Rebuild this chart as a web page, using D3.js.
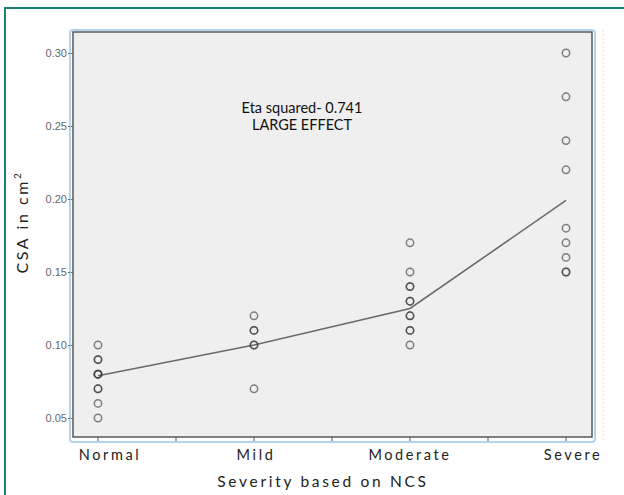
<!DOCTYPE html>
<html><head><meta charset="utf-8">
<script src="https://cdn.jsdelivr.net/npm/d3@7"></script>
<style>body{margin:0;background:#fff}svg{display:block}</style>
</head><body>
<svg id="c" width="624" height="495"></svg>
<script>
const categories = ["Normal", "Mild", "Moderate", "Severe"];
const normalVals = [0.10, 0.09, 0.09, 0.08, 0.08, 0.08, 0.07, 0.07, 0.06, 0.05];
const mildVals = [0.12, 0.11, 0.11, 0.10, 0.10, 0.07];
const moderateVals = [0.17, 0.15, 0.14, 0.14, 0.13, 0.13, 0.12, 0.12, 0.11, 0.11, 0.10];
const severeVals = [0.30, 0.27, 0.24, 0.22, 0.18, 0.17, 0.16, 0.15, 0.15];
const groupMeans = [0.079, 0.100, 0.125, 0.199];
const yTicks = [0.05, 0.10, 0.15, 0.20, 0.25, 0.30];
const annotation = ["Eta squared- 0.741", "LARGE EFFECT"];

const groups = [normalVals, mildVals, moderateVals, severeVals];
const labelNudge = [12, 2, 0, 7];
const svg = d3.select("#c");
const L = 73, R = 592, T = 32, B = 437;

// outer teal frame
svg.append("rect").attr("x", 5).attr("y", 8).attr("width", 700).attr("height", 600)
  .attr("fill", "none").attr("stroke", "#1d7f73").attr("stroke-width", 2);
// faint dashed line on right
svg.append("line").attr("x1", 603).attr("x2", 603).attr("y1", 30).attr("y2", 440)
  .attr("stroke", "#e4e4e4").attr("stroke-dasharray", "2,2");

// blue outline
svg.append("rect").attr("x", 70).attr("y", 30).attr("width", 525).attr("height", 412)
  .attr("rx", 3).attr("fill", "#fff").attr("stroke", "#b3d3ef").attr("stroke-width", 2);
// plot area
svg.append("rect").attr("x", L).attr("y", T).attr("width", R - L).attr("height", B - T)
  .attr("fill", "#efefef").attr("stroke", "#5a5a5a").attr("stroke-width", 1.5);

const x = d3.scalePoint().domain(categories).range([98, 566]);
const y = d3.scaleLinear().domain([0.05, 0.30]).range([418, 53]);

// y axis
const yAxis = svg.append("g").attr("transform", `translate(${L},0)`)
  .call(d3.axisLeft(y).tickValues(yTicks).tickFormat(d3.format(".2f")).tickSize(5).tickPadding(1));
yAxis.select(".domain").remove();
yAxis.selectAll("line").attr("stroke", "#666").attr("stroke-dasharray", "2,1");
yAxis.selectAll("text").attr("fill", "#666").style("font-family", "Liberation Sans, Arial, sans-serif")
  .style("font-size", "11px").attr("dy", "0.35em");

// x ticks (categories and midpoints)
const step = x.step();
const xTickPos = [];
categories.forEach((c, i) => {
  xTickPos.push(x(c));
  if (i < categories.length - 1) xTickPos.push(x(c) + step / 2);
});
svg.append("g").selectAll("line").data(xTickPos).join("line")
  .attr("x1", d => d).attr("x2", d => d).attr("y1", B).attr("y2", B + 4)
  .attr("stroke", "#555").attr("stroke-width", 1);

// category labels
svg.append("g").selectAll("text").data(categories).join("text")
  .attr("x", (d, i) => x(d) + labelNudge[i]).attr("y", 460).attr("text-anchor", "middle")
  .style("font-family", "Lato, sans-serif").style("font-size", "14.5px")
  .style("letter-spacing", "2.6px").attr("fill", "#222").text(d => d);

// axis titles
svg.append("text").attr("x", 323).attr("y", 487).attr("text-anchor", "middle")
  .style("font-family", "Lato, sans-serif").style("font-size", "15.5px")
  .style("letter-spacing", "2.7px").attr("fill", "#222").text("Severity based on NCS");
const yt = svg.append("text").attr("transform", "translate(28,222) rotate(-90)")
  .attr("text-anchor", "middle").style("font-family", "Lato, sans-serif")
  .style("font-size", "16px").style("letter-spacing", "2.6px").attr("fill", "#222");
yt.append("tspan").text("CSA in cm");
yt.append("tspan").attr("dy", -7).style("font-size", "10px").text("2");

// mean line
svg.append("path").datum(groupMeans)
  .attr("d", d3.line().x((d, i) => x(categories[i])).y(d => y(d)))
  .attr("fill", "none").attr("stroke", "#6a6a6a").attr("stroke-width", 1.6);

// points
const pts = [];
groups.forEach((g, i) => g.forEach(v => pts.push({ c: categories[i], v })));
svg.append("g").selectAll("circle").data(pts).join("circle")
  .attr("cx", d => x(d.c)).attr("cy", d => y(d.v)).attr("r", 3.7)
  .attr("fill", "none").attr("stroke", "#333").attr("stroke-opacity", 0.6).attr("stroke-width", 1.5);

// annotation
svg.append("g").selectAll("text").data(annotation).join("text")
  .attr("x", 302).attr("y", (d, i) => 113 + i * 17).attr("text-anchor", "middle")
  .style("font-family", "Lato, sans-serif").style("font-size", "14.5px")
  .attr("fill", "#111").text(d => d);
</script>
</body></html>
